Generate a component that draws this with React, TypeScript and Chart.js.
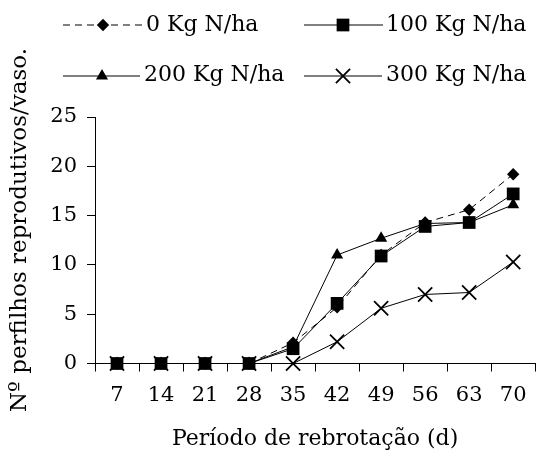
import { useEffect, useRef } from 'react';
import { Chart, registerables } from 'chart.js';

Chart.register(...registerables);

// Regrowth period (days) on the x axis
const categories = ['7', '14', '21', '28', '35', '42', '49', '56', '63', '70'];

// Reproductive tillers per pot for each nitrogen dose
const dose0 = [0, 0, 0, 0, 2.1, 5.7, 11.0, 14.3, 15.6, 19.2];
const dose100 = [0, 0, 0, 0, 1.5, 6.1, 10.9, 13.9, 14.3, 17.2];
const dose200 = [0, 0, 0, 0, 1.7, 11.0, 12.7, 14.2, 14.3, 16.1];
const dose300 = [0, 0, 0, 0, 0, 2.2, 5.6, 7.0, 7.2, 10.3];

const seriesNames = ['0 Kg N/ha', '100 Kg N/ha', '200 Kg N/ha', '300 Kg N/ha'];
const yTicks = [0, 5, 10, 15, 20, 25];

const xTitle = 'Período de rebrotação (d)';
const yTitle = 'Nº perfilhos reprodutivos/vaso.';

const FONT = '"DejaVu Serif", serif';
const BLACK = '#000';

// Marker radii shared by the plotted points and the legend samples
const DIAMOND_R = 6.2;
const SQUARE_R = 9;
const TRIANGLE_R = 7;
const CROSS_R = 10;

type Marker = 'diamond' | 'square' | 'triangle' | 'cross';

function drawMarker(ctx: CanvasRenderingContext2D, kind: Marker, x: number, y: number) {
  ctx.save();
  ctx.fillStyle = BLACK;
  ctx.strokeStyle = BLACK;
  ctx.setLineDash([]);
  ctx.beginPath();
  if (kind === 'diamond') {
    const r = DIAMOND_R;
    ctx.moveTo(x - r, y);
    ctx.lineTo(x, y - r);
    ctx.lineTo(x + r, y);
    ctx.lineTo(x, y + r);
    ctx.closePath();
    ctx.fill();
  } else if (kind === 'square') {
    const h = SQUARE_R * Math.SQRT1_2;
    ctx.rect(x - h, y - h, 2 * h, 2 * h);
    ctx.fill();
  } else if (kind === 'triangle') {
    const r = TRIANGLE_R;
    for (let i = 0; i < 3; i++) {
      const a = (i * 2 * Math.PI) / 3;
      const px = x + Math.sin(a) * r;
      const py = y - Math.cos(a) * r;
      if (i === 0) ctx.moveTo(px, py);
      else ctx.lineTo(px, py);
    }
    ctx.closePath();
    ctx.fill();
  } else {
    const h = CROSS_R * Math.SQRT1_2;
    ctx.lineWidth = 1.8;
    ctx.moveTo(x - h, y - h);
    ctx.lineTo(x + h, y + h);
    ctx.moveTo(x + h, y - h);
    ctx.lineTo(x - h, y + h);
    ctx.stroke();
  }
  ctx.restore();
}

const markers: Marker[] = ['diamond', 'square', 'triangle', 'cross'];

// Legend laid out as two rows of two entries, each a line sample with its marker
const legendAndTitles = {
  id: 'legendAndTitles',
  afterDraw(chart: Chart) {
    const ctx = chart.ctx;
    const area = chart.chartArea;
    const slots = [
      { x0: 63, x1: 143, mx: 103, y: 25, tx: 146, ty: 31 },
      { x0: 304, x1: 383, mx: 343, y: 25, tx: 386, ty: 31 },
      { x0: 63, x1: 140, mx: 102, y: 76, tx: 144, ty: 81 },
      { x0: 304, x1: 382, mx: 343, y: 76, tx: 386, ty: 81 },
    ];
    ctx.save();
    slots.forEach((s, i) => {
      ctx.beginPath();
      ctx.strokeStyle = BLACK;
      ctx.lineWidth = 1;
      ctx.setLineDash(i === 0 ? [7, 5] : []);
      ctx.moveTo(s.x0, s.y);
      ctx.lineTo(s.x1, s.y);
      ctx.stroke();
      ctx.setLineDash([]);
      drawMarker(ctx, markers[i], s.mx, s.y);
      ctx.fillStyle = BLACK;
      ctx.font = `22px ${FONT}`;
      ctx.textAlign = 'left';
      ctx.textBaseline = 'alphabetic';
      ctx.fillText(seriesNames[i], s.tx, s.ty);
    });

    ctx.font = `22px ${FONT}`;
    ctx.textAlign = 'center';
    ctx.textBaseline = 'alphabetic';
    ctx.fillText(xTitle, (area.left + area.right) / 2, 445);

    ctx.translate(26, 230);
    ctx.rotate(-Math.PI / 2);
    ctx.font = `23px ${FONT}`;
    ctx.fillText(yTitle, 0, 0);
    ctx.restore();
  },
};

export default function App() {
  const canvasRef = useRef<HTMLCanvasElement | null>(null);

  useEffect(() => {
    const canvas = canvasRef.current;
    if (!canvas) return;

    const common = {
      borderColor: BLACK,
      backgroundColor: BLACK,
      borderWidth: 1,
      pointBackgroundColor: BLACK,
      pointBorderColor: BLACK,
      pointBorderWidth: 0,
      fill: false,
      tension: 0,
      clip: false as const,
    };

    const chart = new Chart(canvas, {
      type: 'line',
      data: {
        labels: categories,
        datasets: [
          {
            ...common,
            label: seriesNames[0],
            data: dose0,
            borderDash: [7, 5],
            pointStyle: 'rectRot',
            pointRadius: DIAMOND_R,
            order: 1,
          },
          {
            ...common,
            label: seriesNames[1],
            data: dose100,
            pointStyle: 'rect',
            pointRadius: SQUARE_R,
            order: 0,
          },
          {
            ...common,
            label: seriesNames[2],
            data: dose200,
            pointStyle: 'triangle',
            pointRadius: TRIANGLE_R,
            order: 2,
          },
          {
            ...common,
            label: seriesNames[3],
            data: dose300,
            pointStyle: 'crossRot',
            pointRadius: CROSS_R,
            pointBorderWidth: 1.8,
            order: 3,
          },
        ],
      },
      options: {
        responsive: false,
        animation: false,
        events: [],
        layout: { padding: { top: 117, right: 5, left: 0, bottom: 0 } },
        plugins: {
          legend: { display: false },
          tooltip: { enabled: false },
        },
        scales: {
          x: {
            type: 'category',
            offset: true,
            grid: {
              offset: true,
              drawOnChartArea: false,
              drawTicks: true,
              tickLength: 8,
              color: BLACK,
            },
            border: { color: BLACK, width: 1 },
            ticks: {
              color: BLACK,
              font: { family: FONT, size: 21 },
              padding: 11,
              maxRotation: 0,
              autoSkip: false,
            },
            afterFit: (scale: any) => {
              scale.height = 87.5;
            },
          },
          y: {
            type: 'linear',
            min: 0,
            max: 25,
            afterBuildTicks: (scale: any) => {
              scale.ticks = yTicks.map((v) => ({ value: v }));
            },
            grid: {
              drawOnChartArea: false,
              drawTicks: true,
              tickLength: 8,
              color: BLACK,
            },
            border: { color: BLACK, width: 1 },
            ticks: {
              color: BLACK,
              font: { family: FONT, size: 21 },
              padding: 10,
            },
            afterFit: (scale: any) => {
              scale.width = 95;
            },
          },
        },
      },
      plugins: [legendAndTitles],
    });

    return () => chart.destroy();
  }, []);

  return (
    <div style={{ position: 'absolute', left: 0, top: 0, width: 547, height: 451, background: '#fff' }}>
      <canvas ref={canvasRef} width={547} height={451} style={{ display: 'block' }} />
    </div>
  );
}
